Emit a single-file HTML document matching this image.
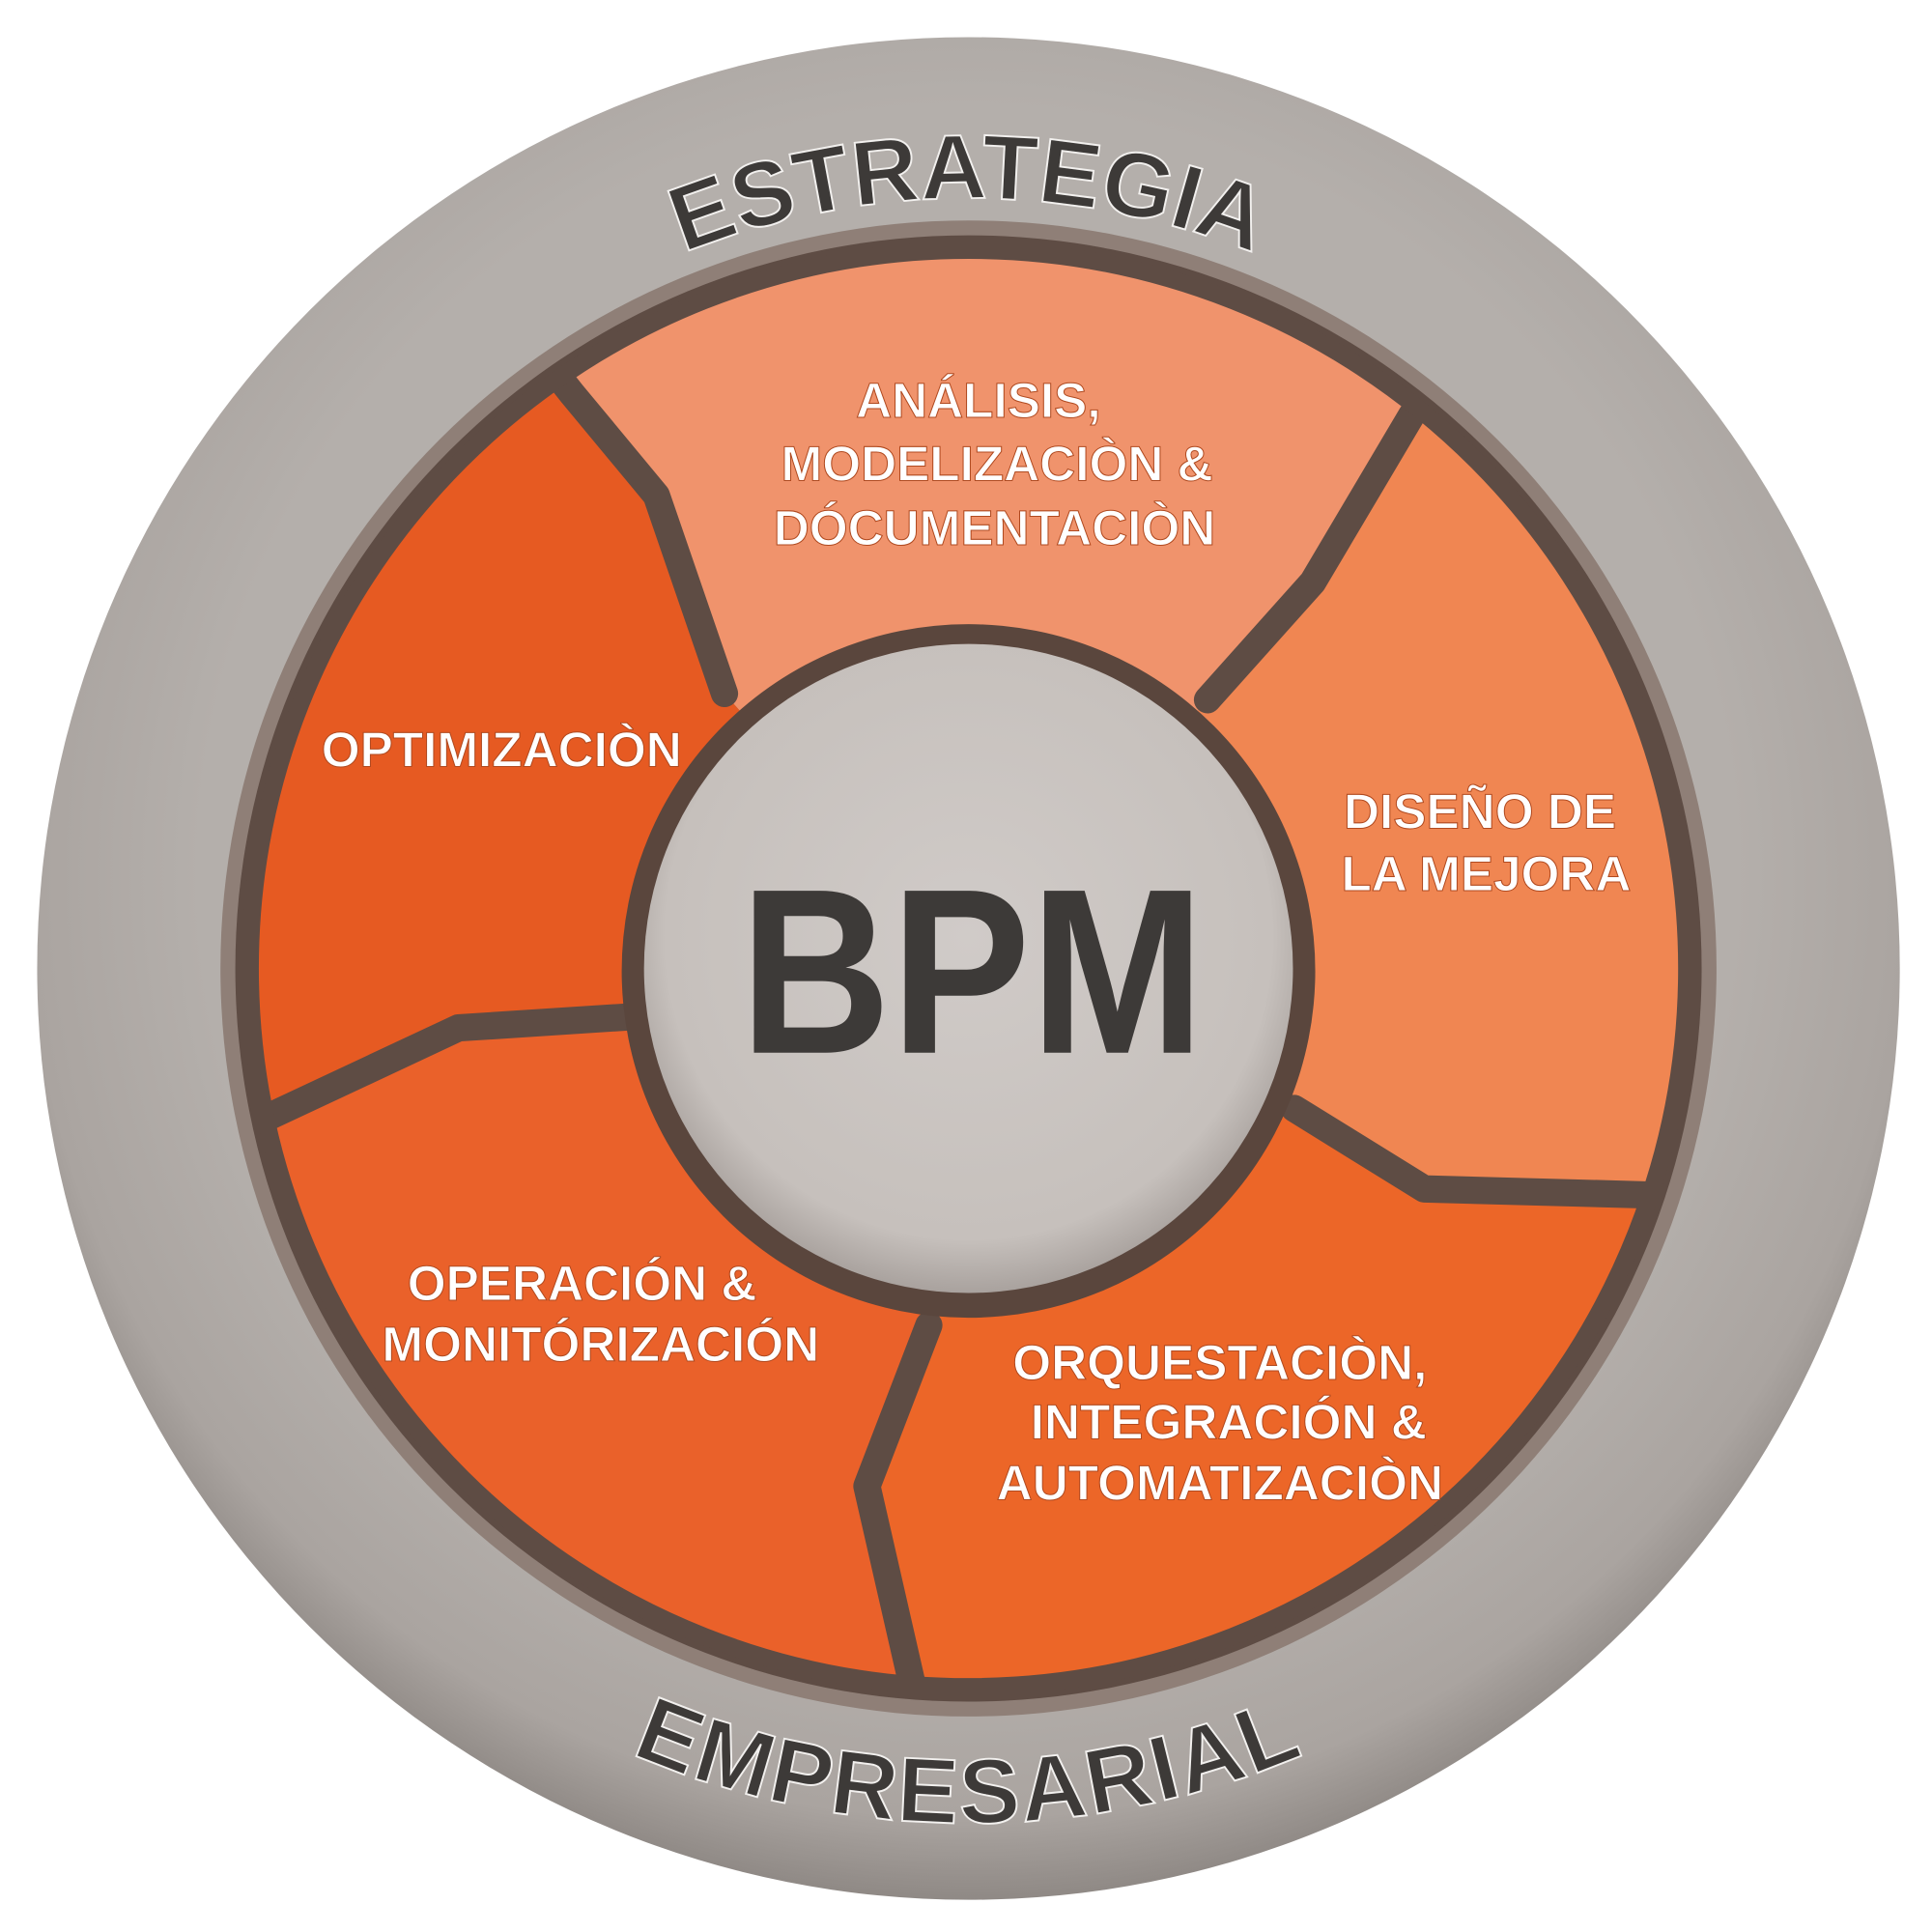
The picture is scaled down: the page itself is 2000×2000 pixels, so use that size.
<!DOCTYPE html>
<html><head><meta charset="utf-8"><style>
html,body{margin:0;padding:0;background:#fff;}
svg{display:block;}
text{font-family:"Liberation Sans",sans-serif;font-weight:bold;}
</style></head><body>
<svg width="2000" height="2000" viewBox="0 0 1560 1560" xmlns="http://www.w3.org/2000/svg">
<defs>
<radialGradient id="ring" cx="50%" cy="45%" r="55%">
<stop offset="0.75" stop-color="#b4afab"/><stop offset="0.92" stop-color="#aaa4a0"/><stop offset="1" stop-color="#8f8985"/>
</radialGradient>
<radialGradient id="hub" cx="50%" cy="45%" r="55%">
<stop offset="0" stop-color="#d0cbc8"/><stop offset="0.85" stop-color="#c6c0bc"/><stop offset="1" stop-color="#a9a29e"/>
</radialGradient>
<clipPath id="disk"><circle cx="782" cy="782" r="580"/></clipPath>
<path id="topArc" d="M 160 782 A 622 622 0 0 1 1404 782"/>
<path id="botArc" d="M 92 782 A 690 690 0 0 0 1472 782"/>
</defs>
<circle cx="782" cy="782" r="752" fill="url(#ring)"/>
<circle cx="782" cy="782" r="604" fill="#8f7f77"/>
<circle cx="782" cy="782" r="592" fill="#5e4c44"/>
<g clip-path="url(#disk)">
<polygon fill="#f0936c" points="782,782 585,560 530,400 462,318 300,80 1250,80 1140,335 1060,470 975,565"/>
<polygon fill="#f08652" points="782,782 975,565 1060,470 1140,335 1250,80 1600,300 1600,965 1335,965 1150,960 1045,895"/>
<polygon fill="#ec6628" points="782,782 1045,895 1150,960 1335,965 1600,965 1600,1600 760,1600 740,1375 700,1200 750,1070"/>
<polygon fill="#ea612a" points="782,782 750,1070 700,1200 740,1375 760,1600 0,1600 0,905 210,905 370,830 525,820"/>
<polygon fill="#e65a22" points="782,782 525,820 370,830 210,905 0,905 0,0 300,80 462,318 530,400 585,560"/>
<g fill="none" stroke="#5e4c44" stroke-width="22" stroke-linejoin="round" stroke-linecap="round">
<polyline points="585,560 530,400 462,318 400,240"/>
<polyline points="975,565 1060,470 1140,335 1200,250"/>
<polyline points="1045,895 1150,960 1335,965 1450,965"/>
<polyline points="750,1070 700,1200 740,1375 760,1450"/>
<polyline points="525,820 370,830 210,905 120,945"/>
</g>
</g>
<circle cx="782" cy="782" r="580" fill="none" stroke="#5e4c44" stroke-width="14"/>
<circle cx="782" cy="784" r="280" fill="#5a463d"/>
<circle cx="782" cy="782" r="262" fill="url(#hub)"/>
<text x="785" y="850" font-size="190" fill="#3d3a38" text-anchor="middle" textLength="375" lengthAdjust="spacingAndGlyphs">BPM</text>
<g font-size="74" fill="#3d3a38" stroke="#f2f0ee" stroke-width="1.5">
<text text-anchor="middle" letter-spacing="0"><textPath href="#topArc" startOffset="50%">ESTRATEGIA</textPath></text>
<text text-anchor="middle" letter-spacing="2"><textPath href="#botArc" startOffset="50%">EMPRESARIAL</textPath></text>
</g>
<g fill="#fff" font-size="40" text-anchor="middle" stroke="#b04a20" stroke-width="0.8">
<text x="790" y="337">ANÁLISIS,</text>
<text x="805" y="388">MODELIZACIÒN &amp;</text>
<text x="803" y="440">DÓCUMENTACIÒN</text>
<text x="405" y="619">OPTIMIZACIÒN</text>
<text x="1195" y="669">DISEÑO DE</text>
<text x="1200" y="719">LA MEJORA</text>
<text x="470" y="1050">OPERACIÓN &amp;</text>
<text x="485" y="1099">MONITÓRIZACIÓN</text>
<text x="985" y="1114">ORQUESTACIÒN,</text>
<text x="992" y="1162">INTEGRACIÓN &amp;</text>
<text x="985" y="1211">AUTOMATIZACIÒN</text>
</g>
</svg>
</body></html>
